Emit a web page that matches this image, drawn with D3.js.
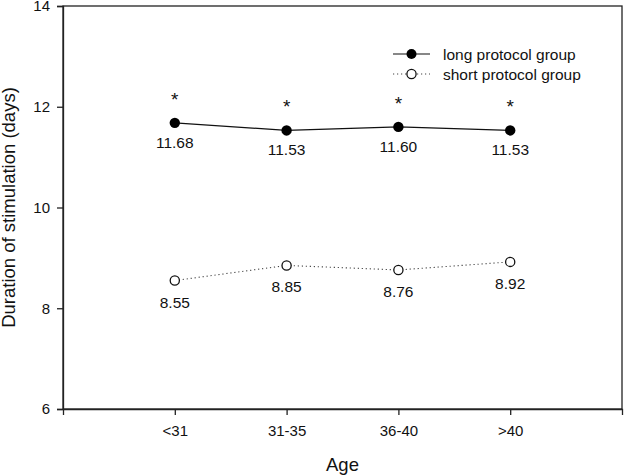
<!DOCTYPE html>
<html><head><meta charset="utf-8">
<script src="https://cdn.jsdelivr.net/npm/d3@7"></script>
<style>body{margin:0;background:#fff;} text{font-family:"Liberation Sans",Arial,sans-serif;fill:#111;}</style>
</head><body><svg id="c" width="624" height="476"></svg>
<script>
const categories = ["<31", "31-35", "36-40", ">40"];
const longValues = [11.68, 11.53, 11.60, 11.53];
const shortValues = [8.55, 8.85, 8.76, 8.92];
const longLabels = ["11.68", "11.53", "11.60", "11.53"];
const shortLabels = ["8.55", "8.85", "8.76", "8.92"];
const yTicks = [6, 8, 10, 12, 14];
const seriesNames = ["long protocol group", "short protocol group"];

const svg = d3.select("#c");
const L = 63, R = 622, T = 6, B = 409;
const x = d3.scaleLinear().domain([0, 5]).range([L, R]);
const y = d3.scaleLinear().domain([6, 14]).range([B, T]);
const xi = i => x(i + 1);

// frame
svg.append("rect").attr("x", L).attr("y", T).attr("width", R - L).attr("height", B - T)
  .attr("fill", "none").attr("stroke", "#222").attr("stroke-width", 1.3);

// y axis
const ya = svg.append("g").attr("transform", `translate(${L},0)`)
  .call(d3.axisLeft(y).tickValues(yTicks).tickSize(6).tickPadding(7).tickFormat(d3.format("d")));
ya.select(".domain").attr("stroke", "#222").attr("stroke-width", 1.3);
ya.selectAll(".tick line").attr("stroke", "#222").attr("stroke-width", 1.3);
ya.selectAll(".tick text").style("font-size", "15px").attr("fill", "#111")
  .style("font-family", '"Liberation Sans",Arial,sans-serif');

// x axis
const xa = svg.append("g").attr("transform", `translate(0,${B})`)
  .call(d3.axisBottom(x).tickValues([1, 2, 3, 4]).tickSize(6).tickPadding(10)
    .tickFormat(d => categories[d - 1]));
xa.select(".domain").attr("stroke", "#222").attr("stroke-width", 1.3);
xa.selectAll(".tick line").attr("stroke", "#222").attr("stroke-width", 1.3);
xa.selectAll(".tick text").style("font-size", "15px").attr("fill", "#111")
  .style("font-family", '"Liberation Sans",Arial,sans-serif');

// titles
svg.append("text").attr("x", (L + R) / 2).attr("y", 471).attr("text-anchor", "middle")
  .style("font-size", "18.5px").text("Age");
svg.append("text").attr("transform", `translate(15,${(T + B) / 2}) rotate(-90)`)
  .attr("text-anchor", "middle").style("font-size", "18.5px").text("Duration of stimulation (days)");

const line = d3.line().x((d, i) => xi(i)).y(d => y(d));

// short group
svg.append("path").datum(shortValues).attr("d", line).attr("fill", "none")
  .attr("stroke", "#444").attr("stroke-width", 1.1).attr("stroke-dasharray", "1.2,2.8");
svg.selectAll(".sm").data(shortValues).join("circle")
  .attr("cx", (d, i) => xi(i)).attr("cy", d => y(d)).attr("r", 4.6)
  .attr("fill", "#fff").attr("stroke", "#111").attr("stroke-width", 1.3);
svg.selectAll(".sl").data(shortValues).join("text")
  .attr("x", (d, i) => xi(i)).attr("y", d => y(d) + 27).attr("text-anchor", "middle")
  .style("font-size", "15.5px").text((d, i) => shortLabels[i]);

// long group
svg.append("path").datum(longValues).attr("d", line).attr("fill", "none")
  .attr("stroke", "#111").attr("stroke-width", 1.2);
svg.selectAll(".lm").data(longValues).join("circle")
  .attr("cx", (d, i) => xi(i)).attr("cy", d => y(d)).attr("r", 5.2).attr("fill", "#000");
svg.selectAll(".ll").data(longValues).join("text")
  .attr("x", (d, i) => xi(i)).attr("y", d => y(d) + 25).attr("text-anchor", "middle")
  .style("font-size", "15.5px").text((d, i) => longLabels[i]);
svg.selectAll(".st").data(longValues).join("text")
  .attr("x", (d, i) => xi(i)).attr("y", d => y(d) - 17).attr("text-anchor", "middle")
  .style("font-size", "19px").text("*");

// legend
const lg = svg.append("g");
const rows = [54, 74];
lg.append("line").attr("x1", 393).attr("x2", 430).attr("y1", rows[0]).attr("y2", rows[0])
  .attr("stroke", "#111").attr("stroke-width", 1.2);
lg.append("circle").attr("cx", 411.5).attr("cy", rows[0]).attr("r", 5).attr("fill", "#000");
lg.append("line").attr("x1", 393).attr("x2", 430).attr("y1", rows[1]).attr("y2", rows[1])
  .attr("stroke", "#444").attr("stroke-width", 1.1).attr("stroke-dasharray", "1.2,2.8");
lg.append("circle").attr("cx", 411.5).attr("cy", rows[1]).attr("r", 4.6)
  .attr("fill", "#fff").attr("stroke", "#111").attr("stroke-width", 1.3);
seriesNames.forEach((n, i) => {
  lg.append("text").attr("x", 443).attr("y", rows[i] + 5.5).style("font-size", "15.5px").text(n);
});
</script></body></html>
